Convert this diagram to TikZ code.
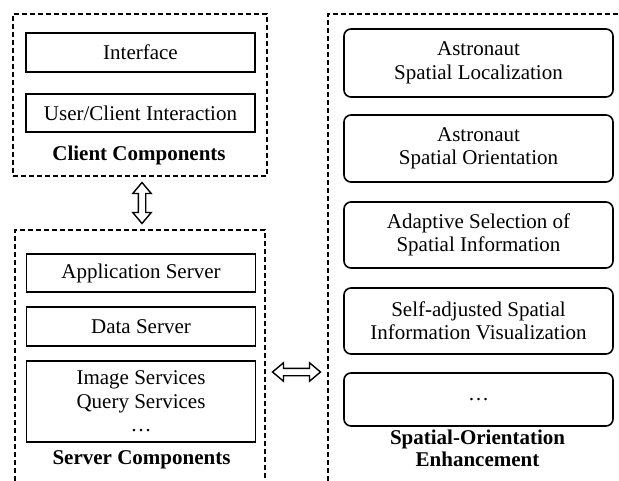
\documentclass[tikz,border=0pt]{standalone}
\usepackage{fontspec}
\setmainfont{Liberation Serif}
\usetikzlibrary{shapes.arrows,calc}
\tikzset{
	groupbox/.style={draw, line width=1.5pt, dash pattern=on 5pt off 3pt, inner sep=0pt},
	grouplbl/.style={font=\fontsize{21}{22}\selectfont\bfseries, align=center},
	compbox/.style={draw, line width=1.6pt, minimum width=229, align=center, inner sep=0pt},
	enhbox/.style={draw, line width=1.6pt, rounded corners=7pt, minimum width=269, align=center, inner sep=0pt},
	dblarrow/.style={double arrow, draw, line width=1.4pt, inner xsep=0pt, inner ysep=3pt, double arrow head extend=5.5pt, double arrow tip angle=80}
}

\begin{document}
\begin{tikzpicture}[x=1pt, y=-1pt, font=\fontsize{21}{23.5}\selectfont]
		%%%%% START %%%%%
		\useasboundingbox (0, 0) rectangle (619, 481);
		\clip (0, 0) rectangle (619, 481);
		
		% client side
		\node[groupbox, minimum width=254, minimum height=162] (client) at (140, 95) {};
		\node[compbox, minimum height=39] (iface) at (140.5, 52.5) {Interface};
		\node[compbox, minimum height=38] (uci) at (140.5, 113) {User/Client Interaction};
		\node[grouplbl] (clientlbl) at (139, 155) {Client Components};
		
		% server side (open at the bottom)
		\node[groupbox, minimum width=250, minimum height=270] (server) at (140, 365) {};
		\node[compbox, minimum height=38] (appsrv) at (141, 273) {Application Server};
		\node[compbox, minimum height=39] (datasrv) at (141, 326.5) {Data Server};
		\node[compbox, minimum height=81] (imgsrv) at (141, 401.5) {Image Services\\Query Services\\\dots};
		\node[grouplbl] (serverlbl) at (141.5, 460) {Server Components};
		
		% enhancement side
		\node[groupbox, minimum width=302, minimum height=486] (enh) at (479, 257) {};
		\node[enhbox, minimum height=68] (loc) at (478.5, 63) {Astronaut\\Spatial Localization};
		\node[enhbox, minimum height=67] (orient) at (478.5, 148.5) {Astronaut\\Spatial Orientation};
		\node[enhbox, minimum height=66] (select) at (478.5, 235) {Adaptive Selection of\\Spatial Information};
		\node[enhbox, minimum height=66] (visual) at (478.5, 321) {Self-adjusted Spatial\\Information Visualization};
		\node[enhbox, minimum height=53] (more) at (478.5, 399.5) {\dots};
		\node[grouplbl] (enhlbl) at (477.5, 448) {Spatial-Orientation\\Enhancement};
		
		% links
		\coordinate (hmid) at ($(server.east)!0.5!(enh.west)$);
		\node[dblarrow, minimum height=41, rotate=90] (vlink) at ([xshift=2pt]$(client.south)!0.5!(server.north)$) {};
		\node[dblarrow, minimum height=48] (hlink) at (hmid |- 0, 372) {};
		
		%%%%% END %%%%%
	\end{tikzpicture}
\end{document}
